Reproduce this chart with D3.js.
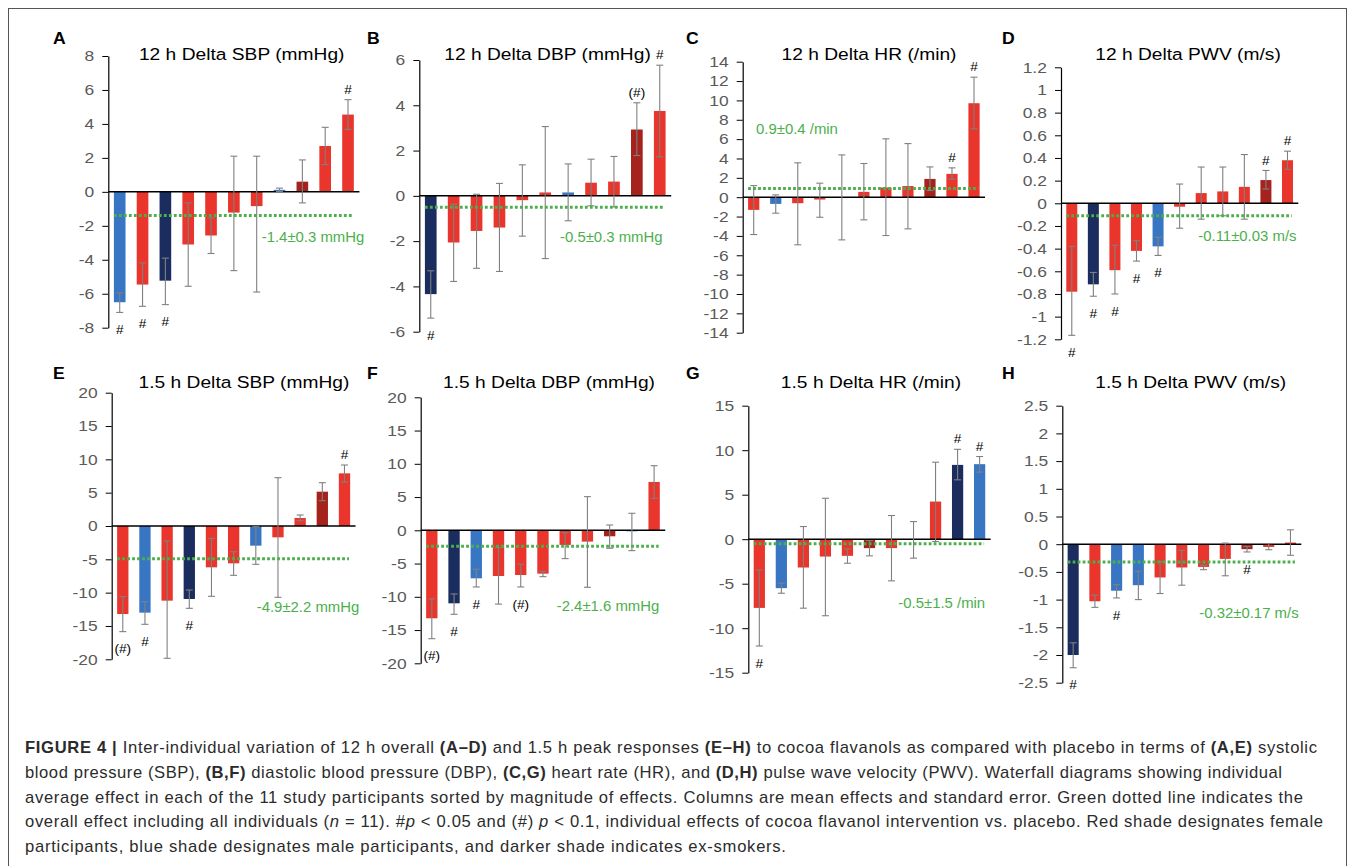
<!DOCTYPE html>
<html>
<head>
<meta charset="utf-8">
<script src="https://cdn.jsdelivr.net/npm/d3@7"></script>
<style>
  html, body { margin: 0; padding: 0; background: #fff; }
  svg { display: block; }
</style>
</head>
<body>
<svg id="fig" width="1355" height="866"></svg>
<script>
// ---- Participants (11 per panel, sorted by effect size) ----
const participantRank = ["1","2","3","4","5","6","7","8","9","10","11"];

// Groups: F = female, M = male, FX = female ex-smoker, MX = male ex-smoker
// Significance marks: "#" p < 0.05, "(#)" p < 0.1

// A: 12 h Delta SBP (mmHg)
const sbp12Mean  = [-6.5, -5.46, -5.23, -3.1, -2.57, -1.22, -0.84, 0.12, 0.6, 2.7, 4.55];
const sbp12Lo    = [-7.1, -6.74, -6.64, -5.56, -3.63, -4.64, -5.9, 0.02, -0.65, 1.6, 3.68];
const sbp12Hi    = [-5.95, -4.18, -3.9, -0.65, -1.53, 2.1, 2.1, 0.22, 1.88, 3.8, 5.43];
const sbp12Group = ["M","F","MX","F","F","F","F","M","FX","F","F"];
const sbp12Sig   = ["#","#","#","","","","","","","","#"];
const sbp12Ticks = [-8,-6,-4,-2,0,2,4,6,8];

// B: 12 h Delta DBP (mmHg)
const dbp12Mean  = [-4.34, -2.06, -1.55, -1.4, -0.19, 0.15, 0.15, 0.58, 0.63, 2.93, 3.75];
const dbp12Lo    = [-5.4, -3.78, -3.2, -3.34, -1.78, -2.77, -1.1, -0.44, -0.49, 1.78, 1.72];
const dbp12Hi    = [-3.31, -0.37, 0.07, 0.55, 1.37, 3.06, 1.41, 1.62, 1.74, 4.11, 5.77];
const dbp12Group = ["MX","F","F","F","F","F","M","F","F","FX","F"];
const dbp12Sig   = ["#","","","","","","","","","(#)","#"];
const dbp12Ticks = [-6,-4,-2,0,2,4,6];

// C: 12 h Delta HR (/min)
const hr12Mean  = [-1.31, -0.69, -0.62, -0.24, -0.02, 0.55, 1.0, 1.15, 1.89, 2.41, 9.71];
const hr12Lo    = [-3.86, -1.65, -4.92, -2.07, -4.41, -2.34, -3.96, -3.27, 0.69, 1.86, 7.06];
const hr12Hi    = [1.2, 0.24, 3.55, 1.45, 4.37, 3.48, 6.03, 5.54, 3.13, 3.03, 12.4];
const hr12Group = ["F","M","F","F","F","F","F","F","FX","F","F"];
const hr12Sig   = ["","","","","","","","","","#","#"];
const hr12Ticks = [-14,-12,-10,-8,-6,-4,-2,0,2,4,6,8,10,12,14];

// D: 12 h Delta PWV (m/s)
const pwv12Mean  = [-0.78, -0.715, -0.59, -0.42, -0.38, -0.03, 0.09, 0.105, 0.145, 0.205, 0.38];
const pwv12Lo    = [-1.165, -0.82, -0.8, -0.51, -0.46, -0.22, -0.14, -0.11, -0.14, 0.126, 0.3];
const pwv12Hi    = [-0.38, -0.61, -0.37, -0.33, -0.3, 0.17, 0.32, 0.32, 0.43, 0.29, 0.46];
const pwv12Group = ["F","MX","F","F","M","F","F","F","F","FX","F"];
const pwv12Sig   = ["#","#","#","#","#","","","","","#","#"];
const pwv12Ticks = [-1.2,-1,-0.8,-0.6,-0.4,-0.2,0,0.2,0.4,0.6,0.8,1,1.2];

// E: 1.5 h Delta SBP (mmHg)
const sbp15Mean  = [-13.2, -13.0, -11.2, -10.95, -6.2, -5.6, -2.95, -1.7, 1.2, 5.15, 7.9];
const sbp15Lo    = [-15.85, -14.75, -19.85, -12.35, -10.55, -7.4, -5.75, -10.7, 0.8, 3.8, 6.6];
const sbp15Hi    = [-10.6, -11.35, -2.25, -9.6, -1.85, -3.85, -0.1, 7.25, 1.65, 6.5, 9.15];
const sbp15Group = ["F","M","F","MX","F","F","M","F","F","FX","F"];
const sbp15Sig   = ["(#)","#","","#","","","","","","","#"];
const sbp15Ticks = [-20,-15,-10,-5,0,5,10,15,20];

// F: 1.5 h Delta DBP (mmHg)
const dbp15Mean  = [-13.23, -10.98, -7.22, -6.87, -6.72, -6.52, -2.2, -1.7, -0.9, -0.15, 7.27];
const dbp15Lo    = [-16.3, -12.63, -8.52, -11.1, -8.52, -6.97, -4.26, -8.57, -2.7, -3.06, 4.81];
const dbp15Hi    = [-10.3, -9.57, -5.86, -2.6, -5.1, -6.17, -0.35, 5.06, 0.8, 2.56, 9.72];
const dbp15Group = ["F","MX","M","F","F","F","F","F","FX","M","F"];
const dbp15Sig   = ["(#)","#","#","","(#)","","","","","",""];
const dbp15Ticks = [-20,-15,-10,-5,0,5,10,15,20];

// G: 1.5 h Delta HR (/min)
const hr15Mean  = [-7.72, -5.5, -3.18, -1.95, -1.87, -1.0, -1.0, -0.07, 4.23, 8.35, 8.43];
const hr15Lo    = [-12.0, -6.07, -7.75, -8.6, -2.7, -1.87, -4.68, -2.13, -0.26, 6.67, 7.53];
const hr15Hi    = [-3.45, -4.94, 1.42, 4.6, -1.09, -0.15, 2.66, 1.98, 8.65, 10.1, 9.29];
const hr15Group = ["F","M","F","F","F","FX","F","F","F","MX","M"];
const hr15Sig   = ["#","","","","","","","","","#","#"];
const hr15Ticks = [-15,-10,-5,0,5,10,15];

// H: 1.5 h Delta PWV (m/s)
const pwv15Mean  = [-2.0, -1.03, -0.84, -0.74, -0.6, -0.42, -0.41, -0.265, -0.09, -0.05, 0.03];
const pwv15Lo    = [-2.23, -1.14, -0.97, -1.0, -0.89, -0.74, -0.46, -0.57, -0.14, -0.1, -0.2];
const pwv15Hi    = [-1.78, -0.92, -0.73, -0.49, -0.31, -0.11, -0.38, 0.02, -0.04, 0.01, 0.26];
const pwv15Group = ["MX","F","M","M","F","F","F","F","FX","F","F"];
const pwv15Sig   = ["#","","#","","","","","","#","",""];
const pwv15Ticks = [-2.5,-2,-1.5,-1,-0.5,0,0.5,1,1.5,2,2.5];

// Overall effects (all individuals, n = 11)
const overallMean  = [-1.4, -0.5, 0.9, -0.11, -4.9, -2.4, -0.5, -0.32];
const overallLabel = ["-1.4±0.3 mmHg", "-0.5±0.3 mmHg", "0.9±0.4 /min", "-0.11±0.03 m/s",
                      "-4.9±2.2 mmHg", "-2.4±1.6 mmHg", "-0.5±1.5 /min", "-0.32±0.17 m/s"];
const panelTitles  = ["12 h Delta SBP (mmHg)", "12 h Delta DBP (mmHg)", "12 h Delta HR (/min)", "12 h Delta PWV (m/s)",
                      "1.5 h Delta SBP (mmHg)", "1.5 h Delta DBP (mmHg)", "1.5 h Delta HR (/min)", "1.5 h Delta PWV (m/s)"];
const panelLetters = ["A","B","C","D","E","F","G","H"];

// ---- Styling ----
const groupColor = { F: "#e9352b", M: "#3876c4", FX: "#a6221c", MX: "#1a2d5e" };
const green = "#4caf4c";
const FONT = "'Liberation Sans', Arial, Helvetica, sans-serif";

// ---- Panel frames (plot geometry in page pixels) ----
const frames = [
  { x0: 108.3, step: 22.83, yTop: 56.0,  yBot: 327.7, titleX: 241.7, titleY: 60,  letterX: 53,   letterY: 44,  labelX: 261.7,  labelY: 241.7 },
  { x0: 419.3, step: 22.9,  yTop: 60.0,  yBot: 331.7, titleX: 547.5, titleY: 60,  letterX: 367,  letterY: 44,  labelX: 560,    labelY: 241.7 },
  { x0: 742.7, step: 22.03, yTop: 61.7,  yBot: 332.7, titleX: 869,   titleY: 60,  letterX: 686,  letterY: 44,  labelX: 756,    labelY: 134.3 },
  { x0: 1061,  step: 21.57, yTop: 67.3,  yBot: 339.3, titleX: 1188,  titleY: 60,  letterX: 1002, letterY: 44,  labelX: 1198.3, labelY: 241 },
  { x0: 111.7, step: 22.17, yTop: 392.7, yBot: 659.3, titleX: 244,   titleY: 388, letterX: 53,   letterY: 379, labelX: 256.7,  labelY: 611.7 },
  { x0: 420.7, step: 22.23, yTop: 397.3, yBot: 663.3, titleX: 549,   titleY: 388, letterX: 367,  letterY: 379, labelX: 556.7,  labelY: 610.7 },
  { x0: 748.3, step: 22.03, yTop: 405.7, yBot: 672.7, titleX: 871,   titleY: 388, letterX: 686,  letterY: 379, labelX: 898.3,  labelY: 607.7 },
  { x0: 1062.3,step: 21.73, yTop: 405.7, yBot: 682.7, titleX: 1190.7,titleY: 388, letterX: 1002, letterY: 379, labelX: 1199.3, labelY: 618.3 }
];

const panelData = [
  { mean: sbp12Mean, lo: sbp12Lo, hi: sbp12Hi, group: sbp12Group, sig: sbp12Sig, ticks: sbp12Ticks },
  { mean: dbp12Mean, lo: dbp12Lo, hi: dbp12Hi, group: dbp12Group, sig: dbp12Sig, ticks: dbp12Ticks },
  { mean: hr12Mean,  lo: hr12Lo,  hi: hr12Hi,  group: hr12Group,  sig: hr12Sig,  ticks: hr12Ticks },
  { mean: pwv12Mean, lo: pwv12Lo, hi: pwv12Hi, group: pwv12Group, sig: pwv12Sig, ticks: pwv12Ticks },
  { mean: sbp15Mean, lo: sbp15Lo, hi: sbp15Hi, group: sbp15Group, sig: sbp15Sig, ticks: sbp15Ticks },
  { mean: dbp15Mean, lo: dbp15Lo, hi: dbp15Hi, group: dbp15Group, sig: dbp15Sig, ticks: dbp15Ticks },
  { mean: hr15Mean,  lo: hr15Lo,  hi: hr15Hi,  group: hr15Group,  sig: hr15Sig,  ticks: hr15Ticks },
  { mean: pwv15Mean, lo: pwv15Lo, hi: pwv15Hi, group: pwv15Group, sig: pwv15Sig, ticks: pwv15Ticks }
];

const svg = d3.select("#fig");
svg.append("rect").attr("width", 1355).attr("height", 866).attr("fill", "#fff");

// Figure frame (open at the bottom)
svg.append("rect")
  .attr("x", 8.5).attr("y", 8.5).attr("width", 1338).attr("height", 900)
  .attr("fill", "none").attr("stroke", "#555").attr("stroke-width", 1);

// Text with a horizontal stretch factor
function label(parent, x, y, str, o) {
  return parent.append("text")
    .attr("transform", `translate(${x},${y}) scale(${o.sx || 1},1)`)
    .attr("text-anchor", o.anchor || "start")
    .attr("font-family", FONT)
    .attr("font-size", o.size)
    .attr("font-weight", o.weight || "normal")
    .attr("fill", o.fill || "#000")
    .text(str);
}

panelData.forEach((d, p) => {
  const f = frames[p];
  const g = svg.append("g");
  const ext = d3.extent(d.ticks);

  const x = d3.scaleBand()
    .domain(participantRank)
    .range([f.x0, f.x0 + f.step * participantRank.length])
    .paddingInner(0.49)
    .paddingOuter(0.245);
  const y = d3.scaleLinear().domain(ext).range([f.yBot, f.yTop]);
  const bw = x.bandwidth();

  const rows = participantRank.map((k, i) => ({
    k, v: d.mean[i], lo: d.lo[i], hi: d.hi[i], grp: d.group[i], sig: d.sig[i]
  }));

  // Columns
  g.selectAll("rect.bar").data(rows).join("rect")
    .attr("class", "bar")
    .attr("x", r => x(r.k))
    .attr("width", bw)
    .attr("y", r => y(Math.max(0, r.v)))
    .attr("height", r => Math.abs(y(r.v) - y(0)))
    .attr("fill", r => groupColor[r.grp]);

  // Y axis
  const yAxis = d3.axisLeft(y)
    .tickValues(d.ticks)
    .tickFormat(v => String(v))
    .tickSize(6)
    .tickSizeOuter(0)
    .tickPadding(6.2);
  const ax = g.append("g").attr("transform", `translate(${f.x0},0)`).call(yAxis);
  ax.select(".domain").attr("stroke", "#000").attr("stroke-width", 1.2);
  ax.selectAll(".tick line").attr("stroke", "#000").attr("stroke-width", 1);
  ax.selectAll(".tick text")
    .attr("font-family", FONT)
    .attr("font-size", 15)
    .attr("fill", "#595959")
    .attr("transform", "scale(1.16,1)");

  // Zero baseline
  g.append("line")
    .attr("x1", f.x0).attr("x2", x.range()[1])
    .attr("y1", y(0)).attr("y2", y(0))
    .attr("stroke", "#000").attr("stroke-width", 1.5);

  // Standard error whiskers
  const cap = 3.5;
  const eb = g.selectAll("g.err").data(rows).join("g").attr("class", "err")
    .attr("stroke", "#808080").attr("stroke-width", 1.1);
  eb.append("line")
    .attr("x1", r => x(r.k) + bw / 2).attr("x2", r => x(r.k) + bw / 2)
    .attr("y1", r => y(r.lo)).attr("y2", r => y(r.hi));
  eb.append("line")
    .attr("x1", r => x(r.k) + bw / 2 - cap).attr("x2", r => x(r.k) + bw / 2 + cap)
    .attr("y1", r => y(r.lo)).attr("y2", r => y(r.lo));
  eb.append("line")
    .attr("x1", r => x(r.k) + bw / 2 - cap).attr("x2", r => x(r.k) + bw / 2 + cap)
    .attr("y1", r => y(r.hi)).attr("y2", r => y(r.hi));

  // Overall effect (green dotted line)
  const first = participantRank[0], last = participantRank[participantRank.length - 1];
  g.append("line")
    .attr("x1", x(first)).attr("x2", x(last) + bw * 0.9)
    .attr("y1", y(overallMean[p])).attr("y2", y(overallMean[p]))
    .attr("stroke", green).attr("stroke-width", 3)
    .attr("stroke-dasharray", "2.8,2.2");
  label(g, f.labelX, f.labelY, overallLabel[p], { size: 14, sx: 1.065, fill: green });

  // Significance marks: below whisker for decreases, above for increases
  rows.filter(r => r.sig).forEach(r => {
    const cx = x(r.k) + bw / 2;
    const cy = r.v < 0 ? y(r.lo) + 17 : y(r.hi) - 10.5;
    label(g, cx, cy + 4.6, r.sig, { size: 13, anchor: "middle", sx: 1.05 });
  });

  // Title and panel letter
  label(g, f.titleX, f.titleY, panelTitles[p], { size: 17, sx: 1.13, anchor: "middle" });
  label(g, f.letterX, f.letterY, panelLetters[p], { size: 16, sx: 1.1, weight: "bold" });
});

// ---- Caption ----
const captionLines = [
  [["FIGURE 4 | ", "b"], ["Inter-individual variation of 12 h overall "], ["(A–D)", "b"], [" and 1.5 h peak responses "], ["(E–H)", "b"], [" to cocoa flavanols as compared with placebo in terms of "], ["(A,E)", "b"], [" systolic"]],
  [["blood pressure (SBP), "], ["(B,F)", "b"], [" diastolic blood pressure (DBP), "], ["(C,G)", "b"], [" heart rate (HR), and "], ["(D,H)", "b"], [" pulse wave velocity (PWV). Waterfall diagrams showing individual"]],
  [["average effect in each of the 11 study participants sorted by magnitude of effects. Columns are mean effects and standard error. Green dotted line indicates the"]],
  [["overall effect including all individuals ("], ["n", "i"], [" = 11). #"], ["p", "i"], [" < 0.05 and (#) "], ["p", "i"], [" < 0.1, individual effects of cocoa flavanol intervention vs. placebo. Red shade designates female"]],
  [["participants, blue shade designates male participants, and darker shade indicates ex-smokers."]]
];
const captionWidths = [1292, 1257, 1278, 1298, 761];

const cap = svg.append("g");
captionLines.forEach((segs, i) => {
  const t = cap.append("text")
    .attr("x", 25).attr("y", 753 + i * 24.8)
    .attr("font-family", FONT)
    .attr("font-size", 16.6)
    .attr("fill", "#2b2b2b")
    .attr("textLength", captionWidths[i])
    .attr("lengthAdjust", "spacing");
  segs.forEach(([s, st]) => {
    t.append("tspan")
      .attr("font-weight", st === "b" ? "bold" : null)
      .attr("font-style", st === "i" ? "italic" : null)
      .text(s);
  });
});
</script>
</body>
</html>
